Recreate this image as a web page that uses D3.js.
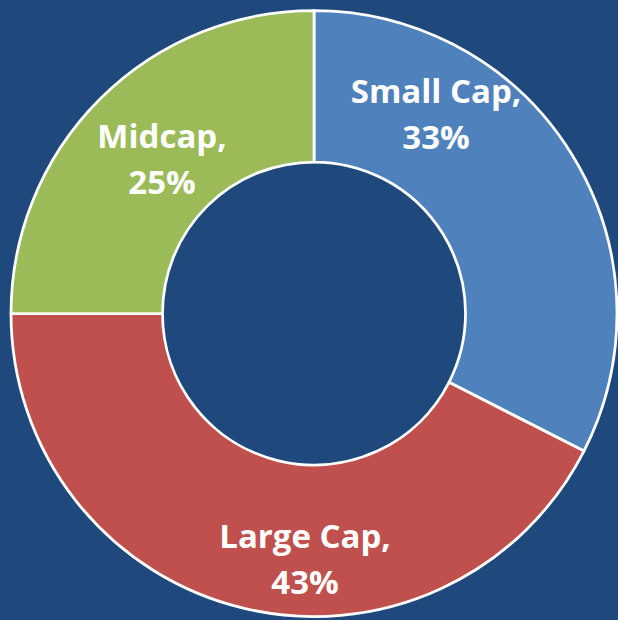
<!DOCTYPE html>
<html><head><meta charset="utf-8">
<script src="https://cdn.jsdelivr.net/npm/d3@7"></script>
<style>html,body{margin:0;padding:0;background:#1F497D;}svg{display:block;}</style>
</head><body>
<svg id="c" width="618" height="620"></svg>
<script>
const categories = ["Small Cap", "Large Cap", "Midcap"];
const values = [32.5, 42.5, 25];
const percentLabels = ["33%", "43%", "25%"];
const colors = ["#4F81BD", "#C0504D", "#9BBB59"];
// label anchor positions (layout only)
const labelPos = [[436, 103], [305, 548], [162, 148]];

const W = 618, H = 620, cx = 314, cy = 313.5, rOuter = 303, rInner = 151.5;
const svg = d3.select("#c");
svg.append("rect").attr("width", W).attr("height", H).attr("fill", "#1F497D");
const g = svg.append("g").attr("transform", `translate(${cx},${cy})`);
const pie = d3.pie().sort(null).value(d => d.v);
const arc = d3.arc().innerRadius(rInner).outerRadius(rOuter);
const data = categories.map((c, i) => ({c, v: values[i], i}));
g.selectAll("path").data(pie(data)).join("path")
  .attr("d", arc).attr("fill", d => colors[d.data.i])
  .attr("stroke", "#fff").attr("stroke-width", 2.75).attr("stroke-linejoin", "round");

const t = svg.selectAll("text.lbl").data(data).join("text").attr("class", "lbl")
  .attr("x", d => labelPos[d.i][0]).attr("y", d => labelPos[d.i][1])
  .attr("text-anchor", "middle").attr("fill", "#fff")
  .attr("font-family", "'Open Sans', sans-serif").attr("font-weight", "bold")
  .attr("font-size", 33);
t.append("tspan").attr("x", d => labelPos[d.i][0]).text(d => d.c + ",");
t.append("tspan").attr("x", d => labelPos[d.i][0]).attr("dy", 46).text(d => percentLabels[d.i]);
</script>
</body></html>
